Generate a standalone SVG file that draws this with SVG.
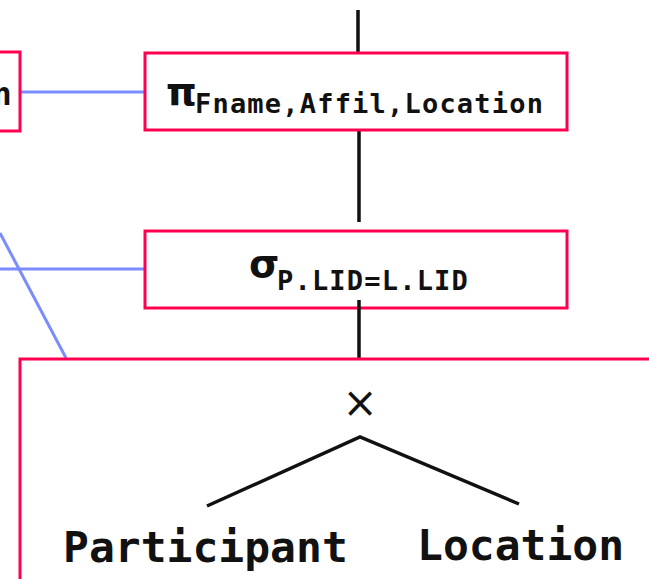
<svg xmlns="http://www.w3.org/2000/svg" width="649" height="579" viewBox="0 0 649 579">
  <style>
    .box { fill: #ffffff; stroke: #ff0050; stroke-width: 3; }
    .edge { stroke: #111111; stroke-width: 3.5; fill: none; }
    .link { stroke: #7b8cff; stroke-width: 3; fill: none; }
    .op { font-family: "DejaVu Sans", sans-serif; font-weight: bold; fill: #111111; }
    .sub { font-family: "DejaVu Sans Mono", monospace; font-weight: bold; fill: #111111; font-size: 27px; letter-spacing: 1.2px; }
    .rel { font-family: "DejaVu Sans Mono", monospace; font-weight: bold; fill: #111111; font-size: 43px; }
  </style>

  <!-- side links -->
  <g id="links">
    <line class="link" x1="20" y1="92" x2="145" y2="92"/>
    <line class="link" x1="0" y1="269" x2="145" y2="269"/>
    <line class="link" x1="0" y1="233" x2="66" y2="358"/>
  </g>

  <!-- partially visible node at left -->
  <g id="left-node">
    <rect class="box" x="-20" y="52" width="40" height="79"/>
    <text class="sub" x="13" y="105" text-anchor="end" style="font-size:32px">n</text>
  </g>

  <!-- tree edges -->
  <g id="edges">
    <line class="edge" x1="358" y1="10" x2="358" y2="52"/>
    <line class="edge" x1="359" y1="131" x2="359" y2="222"/>
  </g>

  <!-- projection -->
  <g id="projection">
    <rect class="box" x="145" y="53" width="422" height="77"/>
    <text x="166" y="105"><tspan class="op" font-size="39">π</tspan><tspan class="sub" x="195" y="113">Fname,Affil,Location</tspan></text>
  </g>

  <!-- selection -->
  <g id="selection">
    <rect class="box" x="145" y="231" width="422" height="77"/>
    <text x="249" y="277"><tspan class="op" font-size="39">σ</tspan><tspan class="sub" x="277" y="290">P.LID=L.LID</tspan></text>
  </g>
  <line class="edge" x1="359" y1="300" x2="359" y2="358"/>

  <!-- cross product subtree -->
  <g id="product">
    <rect class="box" x="20" y="359" width="660" height="260"/>
    <text x="360" y="417" font-family="DejaVu Sans, sans-serif" font-size="42" text-anchor="middle" fill="#111111">×</text>
    <polyline class="edge" points="207,506 360,437 519,504"/>
  </g>

  <g id="participant">
    <text class="rel" x="63" y="562">Participant</text>
  </g>
  <g id="location">
    <text class="rel" x="417" y="560">Location</text>
  </g>
</svg>
